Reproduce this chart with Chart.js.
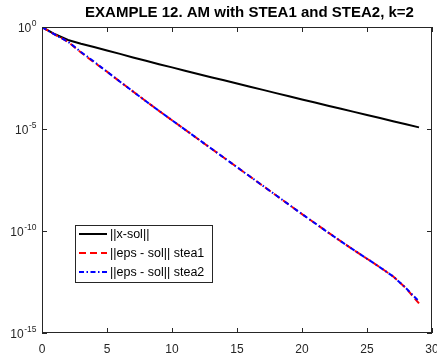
<!DOCTYPE html>
<html><head><meta charset="utf-8">
<script src="https://cdn.jsdelivr.net/npm/chart.js@4/dist/chart.umd.min.js"></script>
<style>html,body{margin:0;padding:0;background:#fff;}#wrap{width:437px;height:356px;}</style>
</head><body><div id="wrap"><canvas id="c" width="437" height="356"></canvas></div>
<script>
const iterations = [0,1,2,3,4,5,6,7,8,9,10,11,12,13,14,15,16,17,18,19,20,21,22,23,24,25,26,27,28,29];
const xsol = [1,4.4e-1,2.3e-1,1.5e-1,1.05e-1,7.1e-2,4.8e-2,3.2e-2,2.2e-2,1.5e-2,1.05e-2,7.24e-3,5.01e-3,3.47e-3,2.45e-3,1.70e-3,1.17e-3,8.3e-4,5.75e-4,4.07e-4,2.82e-4,2.0e-4,1.38e-4,9.8e-5,6.9e-5,4.9e-5,3.47e-5,2.4e-5,1.7e-5,1.2e-5];
const stea1 = [1,4.2e-1,1.9e-1,5.6e-2,1.86e-2,6.46e-3,2.09e-3,6.92e-4,2.29e-4,7.76e-5,2.69e-5,9.33e-6,3.24e-6,1.12e-6,3.89e-7,1.35e-7,4.68e-8,1.62e-8,5.62e-9,1.95e-9,6.76e-10,2.40e-10,8.51e-11,3.09e-11,1.15e-11,4.37e-12,1.66e-12,6.0e-13,1.58e-13,2.8e-14];
const stea2 = [1,4.2e-1,1.9e-1,6.0e-2,2.0e-2,6.46e-3,2.09e-3,6.92e-4,2.29e-4,7.76e-5,2.69e-5,9.33e-6,3.24e-6,1.12e-6,3.89e-7,1.35e-7,4.68e-8,1.62e-8,5.62e-9,1.95e-9,6.76e-10,2.40e-10,8.51e-11,3.09e-11,1.15e-11,4.37e-12,1.66e-12,6.0e-13,1.58e-13,3.5e-14];
const yTickValues = [1e-15,1e-10,1e-5,1];
const yTickExponents = ['-15','-10','-5','0'];
const xTickValues = [0,5,10,15,20,25,30];
const titleText = 'EXAMPLE 12. AM with STEA1 and STEA2, k=2';
const seriesNames = ['||x-sol||','||eps - sol|| stea1','||eps - sol|| stea2'];

const FONT = "'Liberation Sans', Arial, sans-serif";
const AX = '#262626';

function toPts(ys){ return iterations.map((x,i)=>({x:x,y:ys[i]})); }

const datasets = [
  {label:seriesNames[0], data:toPts(xsol), borderColor:'#000000', borderWidth:2, borderDash:[], order:2},
  {label:seriesNames[1], data:toPts(stea1), borderColor:'#ff0000', borderWidth:2, borderDash:[7,4], order:1},
  {label:seriesNames[2], data:toPts(stea2), borderColor:'#0000ff', borderWidth:2, borderDash:[5,2.5,1.5,2.5], order:0}
];
datasets.forEach(d=>{d.pointRadius=0;d.fill=false;d.tension=0;});

const decor = {
  id:'decor',
  afterDraw(chart){
    const ctx = chart.ctx, a = chart.chartArea;
    const xs = chart.scales.x, ys = chart.scales.y;
    ctx.save();
    ctx.strokeStyle = AX; ctx.lineWidth = 1;
    ctx.strokeRect(a.left+0.5, a.top+0.5, a.right-a.left-1, a.bottom-a.top-1);
    ctx.beginPath();
    xTickValues.forEach(v=>{
      const p = Math.round(xs.getPixelForValue(v))+0.5;
      ctx.moveTo(p, a.bottom); ctx.lineTo(p, a.bottom-5);
      ctx.moveTo(p, a.top); ctx.lineTo(p, a.top+5);
    });
    yTickValues.forEach(v=>{
      const p = Math.round(ys.getPixelForValue(v))+0.5;
      ctx.moveTo(a.left, p); ctx.lineTo(a.left+5, p);
      ctx.moveTo(a.right, p); ctx.lineTo(a.right-5, p);
    });
    ctx.stroke();
    ctx.fillStyle = AX; ctx.textBaseline = 'middle'; ctx.textAlign = 'left';
    yTickValues.forEach((v,i)=>{
      const p = ys.getPixelForValue(v);
      ctx.font = '12px ' + FONT;
      const wb = ctx.measureText('10').width;
      ctx.font = '8.5px ' + FONT;
      const we = ctx.measureText(yTickExponents[i]).width;
      const x0 = 36 - wb - we;
      ctx.font = '12px ' + FONT;
      ctx.fillText('10', x0, p+1.5);
      ctx.font = '8.5px ' + FONT;
      ctx.fillText(yTickExponents[i], x0+wb+0.5, p-3);
    });
    ctx.fillStyle = '#000'; ctx.textAlign = 'center'; ctx.textBaseline = 'middle';
    ctx.font = 'bold 15px ' + FONT;
    ctx.fillText(titleText, 249.5, 13);
    const bx = 75.5, by = 225.5, bw = 137, bh = 57;
    ctx.fillStyle = '#fff'; ctx.fillRect(bx, by, bw, bh);
    ctx.strokeStyle = AX; ctx.lineWidth = 1; ctx.strokeRect(bx, by, bw, bh);
    const rows = [234, 253, 272];
    chart.data.datasets.forEach((d,i)=>{
      const y = rows[i];
      ctx.save();
      ctx.strokeStyle = d.borderColor; ctx.lineWidth = 2; ctx.setLineDash(d.borderDash);
      ctx.beginPath(); ctx.moveTo(79, y); ctx.lineTo(107, y); ctx.stroke();
      ctx.restore();
      ctx.fillStyle = '#000'; ctx.textAlign = 'left'; ctx.textBaseline = 'middle';
      ctx.font = '12.5px ' + FONT;
      ctx.fillText(d.label, 110, y+0.5);
    });
    ctx.restore();
  }
};

new Chart(document.getElementById('c'), {
  type:'line',
  data:{datasets:datasets},
  options:{
    responsive:false, animation:false, devicePixelRatio:1,
    layout:{padding:{top:27,right:5,left:0,bottom:0}},
    plugins:{legend:{display:false}, tooltip:{enabled:false}, title:{display:false}},
    scales:{
      x:{type:'linear', min:0, max:30,
         grid:{display:false, drawTicks:false}, border:{display:false},
         ticks:{stepSize:5, color:AX, font:{family:FONT, size:12}, padding:9, maxRotation:0, autoSkip:false},
         afterFit(s){ s.height = 23; s.paddingLeft = 0; s.paddingRight = 0; }},
      y:{type:'logarithmic', min:1e-15, max:1,
         grid:{display:false, drawTicks:false}, border:{display:false},
         ticks:{display:false},
         afterBuildTicks(s){ s.ticks = yTickValues.map(v=>({value:v})); },
         afterFit(s){ s.width = 42; s.paddingTop = 0; s.paddingBottom = 0; }}
    }
  },
  plugins:[decor]
});
</script></body></html>
